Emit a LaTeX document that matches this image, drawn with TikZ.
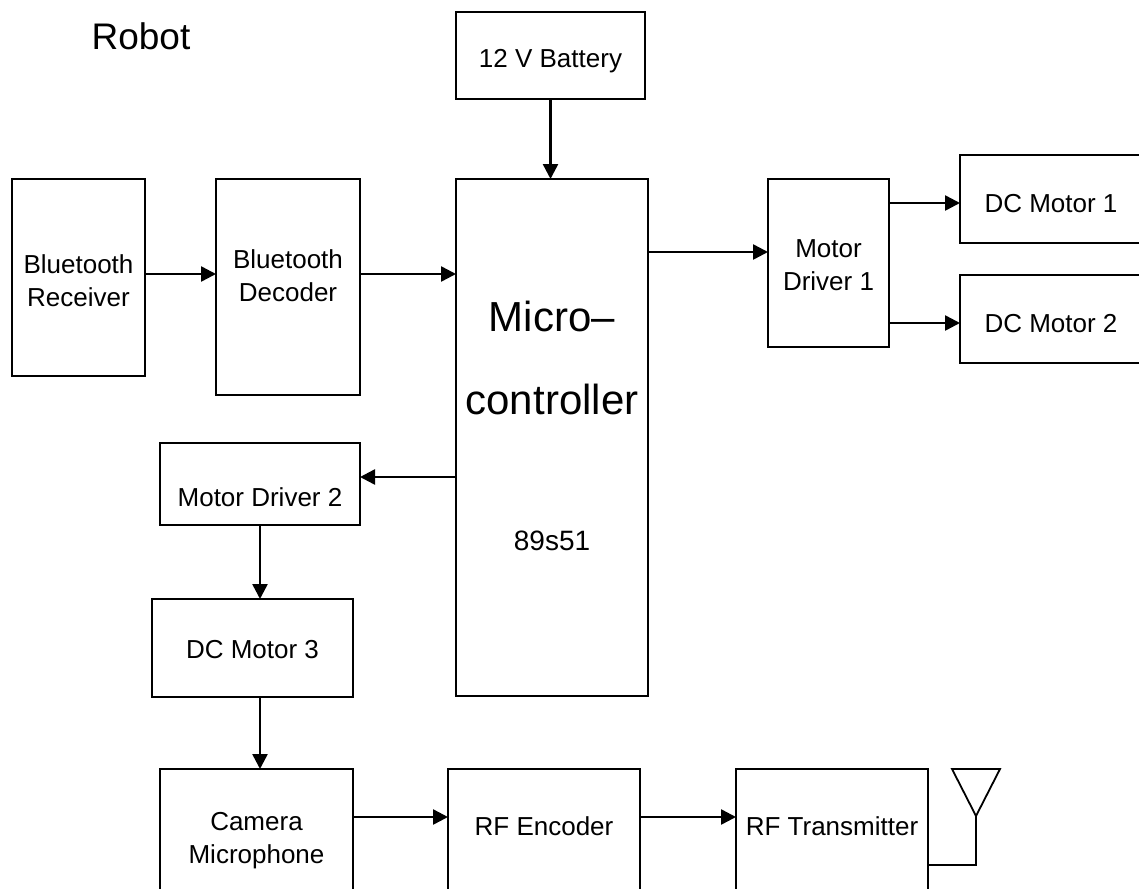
\documentclass[tikz,border=0pt]{standalone}
\usepackage{fontspec}
\setmainfont{Liberation Sans}
\usetikzlibrary{arrows.meta}
\newcommand{\pBlockCell}[2]{\raisebox{#1pt}[0pt][0pt]{\begin{tabular}{@{}c@{}}#2\end{tabular}}}
\tikzset{
  block/.style={draw, line width=2pt, inner sep=0pt, outer sep=0pt, anchor=north west, font=\fontsize{26}{33}\selectfont},
  flow/.style={line width=2.5pt, -{Triangle[length=15pt,width=15pt]}},
  aerial/.style={line width=1.8pt, line join=miter}
}
\begin{document}
\begin{tikzpicture}[x=1pt,y=-1pt]
\useasboundingbox (0,0) rectangle (1139,888);
\node[inner sep=0pt, font=\fontsize{37}{44}\selectfont] (robotname) at (141,36) {Robot};
\node[block, minimum width=189pt, minimum height=87pt] (battery) at (456,12) {\pBlockCell{-11.8}{12 V Battery}};
\node[block, minimum width=192pt, minimum height=517pt, font=\fontsize{42}{42}\selectfont] (micro) at (456,179) {\pBlockCell{-1}{Micro--\\[40pt]controller\\[94pt]{\fontsize{28}{33}\selectfont 89s51}}};
\node[block, minimum width=133pt, minimum height=197pt] (btrx) at (12,179) {\pBlockCell{-12.3}{Bluetooth\\Receiver}};
\node[block, minimum width=144pt, minimum height=216pt] (btdec) at (216,179) {\pBlockCell{2.7}{Bluetooth\\Decoder}};
\node[block, minimum width=121pt, minimum height=168pt] (mdrvone) at (768,179) {\pBlockCell{-10.3}{Motor\\Driver 1}};
\node[block, minimum width=182pt, minimum height=88pt] (dcone) at (960,155) {\pBlockCell{-13.3}{DC Motor 1}};
\node[block, minimum width=182pt, minimum height=88pt] (dctwo) at (960,275) {\pBlockCell{-13.3}{DC Motor 2}};
\node[block, minimum width=200pt, minimum height=82pt] (mdrvtwo) at (160,443) {\pBlockCell{-22.3}{Motor Driver 2}};
\node[block, minimum width=201pt, minimum height=98pt] (dcthree) at (152,599) {\pBlockCell{-10.3}{DC Motor 3}};
\node[block, minimum width=193pt, minimum height=140pt] (camera) at (160,769) {\pBlockCell{-7.8}{Camera\\Microphone}};
\node[block, minimum width=192pt, minimum height=140pt] (rfenc) at (448,769) {\pBlockCell{4.2}{RF Encoder}};
\node[block, minimum width=192pt, minimum height=140pt] (rftx) at (736,769) {\pBlockCell{4.2}{RF Transmitter}};
\coordinate (btlevel) at (0,274);
\coordinate (drvlevel) at (0,252);
\coordinate (onelevel) at (0,203);
\coordinate (twolevel) at (0,323);
\coordinate (backlevel) at (0,477);
\coordinate (rflevel) at (0,817);
\coordinate (antleft) at (952,769);
\coordinate (antright) at (1000,769);
\coordinate (antapex) at (976,816);
\coordinate (antfoot) at (976,865);
\draw[flow] (battery.south) -- (battery.south |- micro.north);
\draw[flow] (btrx.east |- btlevel) -- (btdec.west |- btlevel);
\draw[flow] (btdec.east |- btlevel) -- (micro.west |- btlevel);
\draw[flow] (micro.east |- drvlevel) -- (mdrvone.west |- drvlevel);
\draw[flow] (mdrvone.east |- onelevel) -- (dcone.west |- onelevel);
\draw[flow] (mdrvone.east |- twolevel) -- (dctwo.west |- twolevel);
\draw[flow] (micro.west |- backlevel) -- (mdrvtwo.east |- backlevel);
\draw[flow] (mdrvtwo.south) -- (mdrvtwo.south |- dcthree.north);
\draw[flow] (mdrvtwo.south |- dcthree.south) -- (mdrvtwo.south |- camera.north);
\draw[flow] (camera.east |- rflevel) -- (rfenc.west |- rflevel);
\draw[flow] (rfenc.east |- rflevel) -- (rftx.west |- rflevel);
\draw[aerial] (rftx.east |- antfoot) -- (antfoot) -- (antapex) -- (antleft) -- (antright) -- (antapex);
\end{tikzpicture}
\end{document}
